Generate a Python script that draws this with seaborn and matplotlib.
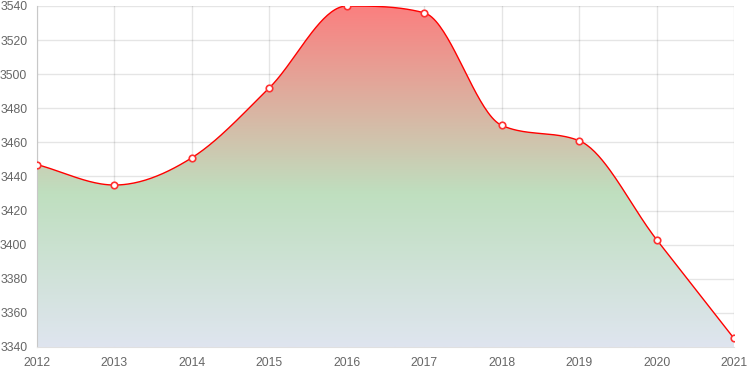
import numpy as np
import matplotlib
matplotlib.use("Agg")
import matplotlib.pyplot as plt
import seaborn as sns
from matplotlib.colors import LinearSegmentedColormap
from matplotlib.patches import Polygon

years = [2012, 2013, 2014, 2015, 2016, 2017, 2018, 2019, 2020, 2021]
values = [3447, 3435, 3451, 3492, 3540, 3536, 3470, 3461, 3403, 3345]
y_ticks = [3340, 3360, 3380, 3400, 3420, 3440, 3460, 3480, 3500, 3520, 3540]


def monotone_curve(x, y, n=40):
    # Fritsch-Carlson monotone cubic, like chart.js "monotone" mode
    x = np.asarray(x, float)
    y = np.asarray(y, float)
    h = np.diff(x)
    d = np.diff(y) / h
    m = np.zeros_like(y)
    m[0], m[-1] = d[0], d[-1]
    for i in range(1, len(y) - 1):
        m[i] = 0 if d[i - 1] * d[i] <= 0 else (d[i - 1] + d[i]) / 2
    for i in range(len(d)):
        if d[i] == 0:
            m[i] = m[i + 1] = 0
            continue
        a, b = m[i] / d[i], m[i + 1] / d[i]
        s = a * a + b * b
        if s > 9:
            t = 3 / np.sqrt(s)
            m[i], m[i + 1] = t * a * d[i], t * b * d[i]
    xs, ys = [], []
    for i in range(len(d)):
        t = np.linspace(0, 1, n, endpoint=(i == len(d) - 1))
        h00 = 2 * t**3 - 3 * t**2 + 1
        h10 = t**3 - 2 * t**2 + t
        h01 = -2 * t**3 + 3 * t**2
        h11 = t**3 - t**2
        xs.append(x[i] + t * h[i])
        ys.append(h00 * y[i] + h10 * h[i] * m[i] + h01 * y[i + 1] + h11 * h[i] * m[i + 1])
    return np.concatenate(xs), np.concatenate(ys)


sns.set_style("white")
plt.rcParams["font.family"] = ["Liberation Sans", "DejaVu Sans"]

fig = plt.figure(figsize=(7.5, 3.75), dpi=100)
ax = fig.add_axes([0.0493, 0.0747, 0.9294, 0.9093])

cx, cy = monotone_curve(years, values)
ymin, ymax = 3340, 3540

# gradient fill under the curve
cmap = LinearSegmentedColormap.from_list(
    "fill", [(0.0, "#dfe5ef"), (0.45, "#bfdfbf"), (1.0, "#fb7f7f")])
grad = np.linspace(0, 1, 256).reshape(-1, 1)
img = ax.imshow(grad, cmap=cmap, origin="lower", aspect="auto",
                extent=[years[0], years[-1], ymin, ymax], zorder=1)
poly = Polygon(np.column_stack([np.r_[cx, cx[-1], cx[0]], np.r_[cy, ymin, ymin]]),
               closed=True, transform=ax.transData, facecolor="none", edgecolor="none")
ax.add_patch(poly)
img.set_clip_path(poly)

sns.lineplot(x=cx, y=cy, ax=ax, color="#ff0000", linewidth=1, zorder=3)
sns.scatterplot(x=years, y=values, ax=ax, s=22, facecolor="white",
                edgecolor="#ff3030", linewidth=1.2, zorder=4)

ax.set_xlim(years[0], years[-1])
ax.set_ylim(ymin, ymax)
ax.set_xticks(years)
ax.set_yticks(y_ticks)
ax.grid(True, color="#000000", alpha=0.1, linewidth=1)
for line in ax.get_xgridlines() + ax.get_ygridlines():
    line.set_zorder(2)
for s in ["top", "right"]:
    ax.spines[s].set_visible(False)
ax.spines["left"].set_color("#c8c8c8")
ax.spines["bottom"].set_color("#e0e0e0")
ax.tick_params(axis="both", width=1, color="#e0e0e0",
               labelsize=8.8, labelcolor="#666666")
ax.tick_params(axis="y", length=6.5, pad=0.5)
ax.tick_params(axis="x", length=4, pad=3)
ax.set_xlabel("")
ax.set_ylabel("")

fig.savefig("out.png", dpi=100)
